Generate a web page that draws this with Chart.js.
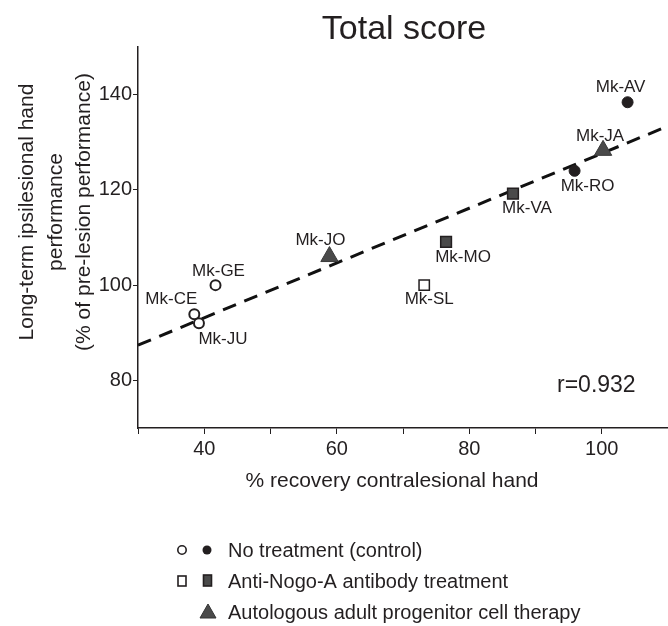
<!DOCTYPE html>
<html><head><meta charset="utf-8">
<script src="https://cdn.jsdelivr.net/npm/chart.js@4.4.1/dist/chart.umd.min.js"></script>
<style>html,body{margin:0;padding:0;background:#fff;overflow:hidden}#wrap{width:668px;height:626px;position:relative}</style>
</head><body><div id="wrap"><canvas id="c" width="668" height="626"></canvas></div>
<script>
const chartTitle = 'Total score';
const xAxisTitle = '% recovery contralesional hand';
const yAxisTitle = ['Long-term ipsilesional hand', 'performance', '(% of pre-lesion performance)'];
const xTickValues = [30, 40, 50, 60, 70, 80, 90, 100, 110];
const xTickLabels = [40, 60, 80, 100];
const yTickLabels = [80, 100, 120, 140];
const correlationText = 'r=0.932';

const controlOpenNames = ['Mk-GE', 'Mk-CE', 'Mk-JU'];
const controlOpenX = [41.7, 38.5, 39.2];
const controlOpenY = [100.0, 93.9, 92.0];
const controlFilledNames = ['Mk-AV', 'Mk-RO'];
const controlFilledX = [103.9, 95.9];
const controlFilledY = [138.4, 124.0];
const antibodyOpenNames = ['Mk-SL'];
const antibodyOpenX = [73.2];
const antibodyOpenY = [100.0];
const antibodyFilledNames = ['Mk-VA', 'Mk-MO'];
const antibodyFilledX = [86.6, 76.5];
const antibodyFilledY = [119.2, 109.1];
const cellTherapyNames = ['Mk-JO', 'Mk-JA'];
const cellTherapyX = [58.9, 100.2];
const cellTherapyY = [106.0, 128.3];
const fitLineX = [30, 110];
const fitLineY = [87.4, 133.4];
const legendLabels = ['No treatment (control)', 'Anti-Nogo-A antibody treatment', 'Autologous adult progenitor cell therapy'];

// label placement (pixel offsets from the marker), style only
const labelOffset = {
  'Mk-AV': [-7, -15], 'Mk-JA': [-3, -14], 'Mk-RO': [13, 15], 'Mk-VA': [14, 15],
  'Mk-MO': [17, 16], 'Mk-SL': [5, 14], 'Mk-JO': [-9, -16], 'Mk-GE': [3, -14],
  'Mk-CE': [-23, -15], 'Mk-JU': [24, 16]
};

const FONT = "'Liberation Sans', Arial, Helvetica, sans-serif";
const INK = '#231f20';
const GREY = '#4a4a4a';

function pts(xs, ys, names) { return xs.map((x, i) => ({ x: x, y: ys[i], name: names ? names[i] : '' })); }

const datasets = [
  { label: 'controlOpen', data: pts(controlOpenX, controlOpenY, controlOpenNames), pointStyle: 'circle', pointRadius: 5, backgroundColor: '#fff', borderColor: INK, pointBorderWidth: 2 },
  { label: 'controlFilled', data: pts(controlFilledX, controlFilledY, controlFilledNames), pointStyle: 'circle', pointRadius: 5.5, backgroundColor: INK, borderColor: INK, pointBorderWidth: 1 },
  { label: 'antibodyOpen', data: pts(antibodyOpenX, antibodyOpenY, antibodyOpenNames), pointStyle: 'rect', pointRadius: 7.3, backgroundColor: '#fff', borderColor: INK, pointBorderWidth: 1.5 },
  { label: 'antibodyFilled', data: pts(antibodyFilledX, antibodyFilledY, antibodyFilledNames), pointStyle: 'rect', pointRadius: 7.6, backgroundColor: GREY, borderColor: INK, pointBorderWidth: 1.5 },
  { label: 'cellTherapy', data: pts(cellTherapyX, cellTherapyY, cellTherapyNames), pointStyle: 'triangle', pointRadius: 10, backgroundColor: GREY, borderColor: '#3a3a3a', pointBorderWidth: 1 },
  { label: 'fit', type: 'line', data: pts(fitLineX, fitLineY), borderColor: '#111', borderWidth: 3, borderDash: [14, 9], pointRadius: 0, fill: false, tension: 0 }
];

const overlay = {
  id: 'overlay',
  afterDatasetsDraw(chart) {
    const ctx = chart.ctx;
    ctx.save();
    ctx.fillStyle = INK;
    ctx.font = '17px ' + FONT;
    ctx.textAlign = 'center'; ctx.textBaseline = 'middle';
    chart.data.datasets.forEach((ds, di) => {
      if (ds.type === 'line') return;
      chart.getDatasetMeta(di).data.forEach((el, i) => {
        const nm = ds.data[i].name; const off = labelOffset[nm] || [0, -14];
        ctx.fillText(nm, el.x + off[0], el.y + off[1]);
      });
    });
    ctx.font = '23px ' + FONT; ctx.textAlign = 'left';
    ctx.fillText(correlationText, 557, 386);
    ctx.font = '34px ' + FONT; ctx.textAlign = 'center';
    ctx.fillText(chartTitle, 404, 30);
    ctx.font = '21px ' + FONT;
    ctx.fillText(xAxisTitle, 392, 481);
    const xs = [27, 56, 84];
    yAxisTitle.forEach((t, i) => {
      ctx.save(); ctx.translate(xs[i], 212); ctx.rotate(-Math.PI / 2);
      ctx.fillText(t, 0, 0); ctx.restore();
    });
    const rows = [550, 581, 612];
    ctx.font = '20px ' + FONT; ctx.textAlign = 'left';
    legendLabels.forEach((t, i) => ctx.fillText(t, 228, rows[i] + 1));
    ctx.lineWidth = 1.6; ctx.strokeStyle = INK;
    ctx.beginPath(); ctx.arc(182, rows[0], 4.2, 0, Math.PI * 2); ctx.fillStyle = '#fff'; ctx.fill(); ctx.stroke();
    ctx.beginPath(); ctx.arc(207, rows[0], 4.5, 0, Math.PI * 2); ctx.fillStyle = INK; ctx.fill();
    ctx.fillStyle = '#fff'; ctx.fillRect(178, rows[1] - 5, 8, 10); ctx.strokeRect(178, rows[1] - 5, 8, 10);
    ctx.fillStyle = GREY; ctx.fillRect(203.5, rows[1] - 6, 8, 11); ctx.strokeRect(203.5, rows[1] - 6, 8, 11);
    ctx.beginPath(); ctx.moveTo(208, rows[2] - 8); ctx.lineTo(216, rows[2] + 6); ctx.lineTo(200, rows[2] + 6); ctx.closePath();
    ctx.fillStyle = GREY; ctx.fill(); ctx.lineWidth = 1; ctx.strokeStyle = '#333'; ctx.stroke();
    ctx.restore();
  }
};

new Chart(document.getElementById('c'), {
  type: 'scatter',
  data: { datasets: datasets },
  options: {
    responsive: false, animation: false, devicePixelRatio: 1,
    layout: { autoPadding: false, padding: { top: 47, right: 0, bottom: 0, left: 0 } },
    plugins: { legend: { display: false }, tooltip: { enabled: false }, title: { display: false } },
    scales: {
      x: {
        type: 'linear', min: 30, max: 110,
        afterBuildTicks: s => { s.ticks = xTickValues.map(v => ({ value: v })); },
        afterFit: s => { s.height = 198; s.paddingLeft = 0; s.paddingRight = 0; },
        ticks: { autoSkip: false, maxRotation: 0, padding: 3, color: INK, font: { family: FONT, size: 20 },
          callback: v => xTickLabels.includes(v) ? String(v) : '' },
        grid: { drawOnChartArea: false, drawTicks: true, tickLength: 6, color: INK, lineWidth: 1 },
        border: { display: true, color: INK, width: 1.5 }
      },
      y: {
        type: 'linear', min: 70, max: 150,
        afterBuildTicks: s => { s.ticks = yTickLabels.map(v => ({ value: v })); },
        afterFit: s => { s.width = 138; s.paddingTop = 0; s.paddingBottom = 0; },
        ticks: { autoSkip: false, padding: 1, color: INK, font: { family: FONT, size: 20 } },
        grid: { drawOnChartArea: false, drawTicks: true, tickLength: 5, color: INK, lineWidth: 1 },
        border: { display: true, color: INK, width: 1.5 }
      }
    }
  },
  plugins: [overlay]
});
</script></body></html>
